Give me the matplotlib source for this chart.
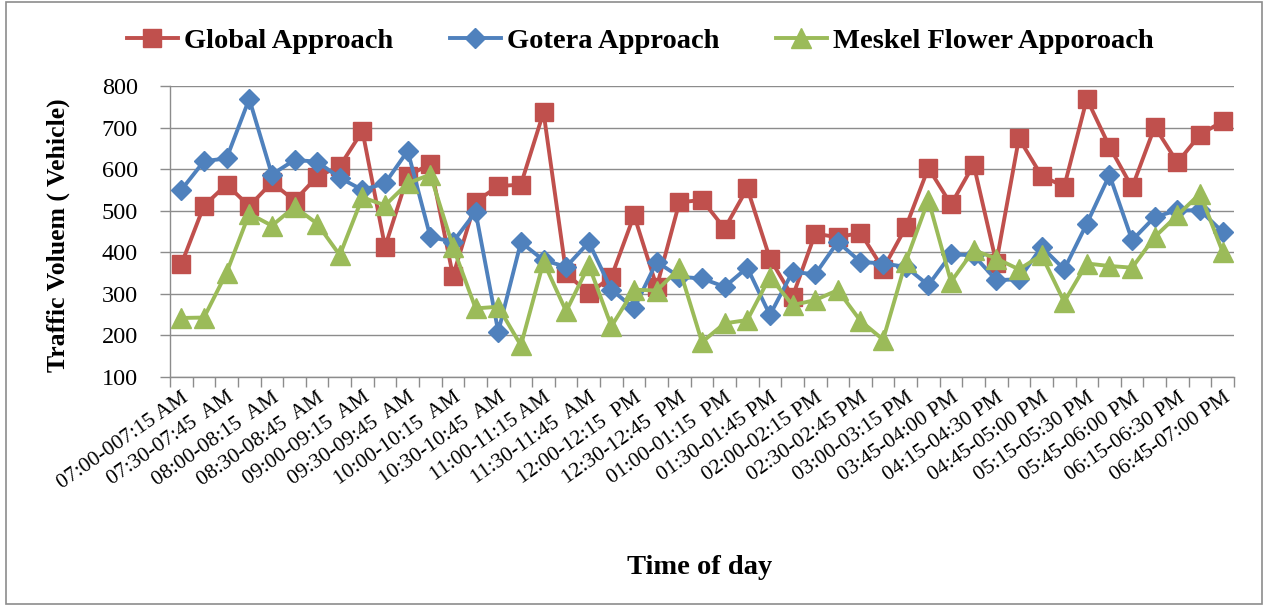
import matplotlib
matplotlib.use("Agg")
import matplotlib.pyplot as plt
from matplotlib.patches import Rectangle
import numpy as np

categories = [
    "07:00-007:15 AM", "07:15-07:30 AM", "07:30-07:45  AM", "07:45-08:00 AM",
    "08:00-08:15  AM", "08:15-08:30 AM", "08:30-08:45  AM", "08:45-09:00 AM",
    "09:00-09:15  AM", "09:15-09:30 AM", "09:30-09:45  AM", "09:45-10:00 AM",
    "10:00-10:15  AM", "10:15-10:30 AM", "10:30-10:45  AM", "10:45-11:00 AM",
    "11:00-11:15 AM", "11:15-11:30 AM", "11:30-11:45  AM", "11:45-12:00 AM",
    "12:00-12:15  PM", "12:15-12:30 PM", "12:30-12:45  PM", "12:45-01:00 PM",
    "01:00-01:15  PM", "01:15-01:30 PM", "01:30-01:45 PM", "01:45-02:00 PM",
    "02:00-02:15 PM", "02:15-02:30 PM", "02:30-02:45 PM", "02:45-03:00 PM",
    "03:00-03:15 PM", "03:15-03:45 PM", "03:45-04:00 PM", "04:00-04:15 PM",
    "04:15-04:30 PM", "04:30-04:45 PM", "04:45-05:00 PM", "05:00-05:15 PM",
    "05:15-05:30 PM", "05:30-05:45 PM", "05:45-06:00 PM", "06:00-06:15 PM",
    "06:15-06:30 PM", "06:30-06:45 PM", "06:45-07:00 PM",
]

global_approach = [371, 512, 563, 511, 568, 524, 582, 607, 692, 413, 584, 612,
                   343, 522, 559, 563, 737, 349, 301, 341, 489, 317, 520,
                   526, 457, 554, 385, 293, 445, 436, 447, 360, 460, 603,
                   515, 611, 375, 674, 584, 558, 769, 654, 556, 702, 616, 683, 715]
gotera_approach = [550, 619, 626, 769, 587, 622, 618, 579, 550, 566, 644, 437,
                   425, 497, 209, 424, 381, 365, 424, 310, 265, 377, 341,
                   337, 317, 363, 249, 353, 347, 425, 377, 373, 365, 321,
                   395, 393, 333, 335, 413, 359, 469, 586, 429, 485, 501, 501, 449]
meskel_approach = [242, 243, 351, 493, 464, 509, 469, 393, 532, 513, 566, 587,
                   413, 265, 269, 176, 377, 258, 369, 222, 310, 308, 361,
                   184, 229, 237, 341, 273, 285, 309, 235, 190, 377, 526,
                   329, 405, 385, 359, 393, 281, 373, 367, 363, 437, 489, 541, 401]

series_names = ["Global Approach", "Gotera Approach", "Meskel Flower Apporoach"]
yticks = [100, 200, 300, 400, 500, 600, 700, 800]

plt.rcParams['font.family'] = ['Liberation Serif', 'DejaVu Serif']

W, H = 1268, 605
fig = plt.figure(figsize=(W / 100, H / 100), dpi=100)
ax = fig.add_axes([170 / W, 1 - 377 / H, (1234 - 170) / W, (377 - 86) / H])

x = np.arange(len(categories))
red, blue, green = "#C0504D", "#4F81BD", "#9BBB59"
ax.plot(x, global_approach, color=red, lw=2.8, marker='s', ms=13.5,
        label=series_names[0], zorder=3)
ax.plot(x, gotera_approach, color=blue, lw=2.8, marker='D', ms=10.5,
        label=series_names[1], zorder=4)
ax.plot(x, meskel_approach, color=green, lw=2.8, marker='^', ms=14,
        label=series_names[2], zorder=5)

ax.set_xlim(-0.5, len(categories) - 0.5)
ax.set_ylim(100, 800)
ax.set_yticks(yticks)
ax.set_yticklabels([str(v) for v in yticks], fontsize=17.5)
ax.yaxis.grid(True, color="#8c8c8c", lw=1.0)
ax.set_axisbelow(True)
ax.tick_params(axis='y', length=7, color="#8c8c8c", width=1.0, pad=16)

# category boundary ticks
ax.set_xticks(np.arange(-0.5, len(categories), 1.0))
ax.set_xticklabels([])
ax.tick_params(axis='x', which='major', length=7, color="#8c8c8c", width=1.0)
# labels at every other category
ax.set_xticks(x[::2], minor=True)
ax.set_xticklabels(categories[::2], minor=True, rotation=35, fontsize=15.5,
                   ha='right', va='top', rotation_mode='anchor')
ax.tick_params(axis='x', which='minor', length=0, pad=8)

for s in ['top', 'right']:
    ax.spines[s].set_visible(False)
for s in ['left', 'bottom']:
    ax.spines[s].set_color("#8c8c8c")
    ax.spines[s].set_linewidth(1.0)

fig.text(58 / W, 1 - 235 / H, "Traffic Voluem ( Vehicle)", rotation=90,
         ha='center', va='center', fontsize=18.5, fontweight='bold')
fig.text(700 / W, 1 - 567 / H, "Time of day", ha='center', va='center',
         fontsize=20.5, fontweight='bold')

leg = fig.legend(loc='center', bbox_to_anchor=(640 / W, 1 - 41 / H), ncol=3,
                 frameon=False, prop={'weight': 'bold', 'size': 20.5},
                 handlelength=1.8, handletextpad=0.2, columnspacing=2.0)

fig.add_artist(Rectangle((6 / W, 1 / H), (1262 - 6) / W, (603 - 1) / H,
                         transform=fig.transFigure, fill=False,
                         edgecolor="#8c8c8c", lw=1.2))

fig.savefig("out.png", dpi=100)
